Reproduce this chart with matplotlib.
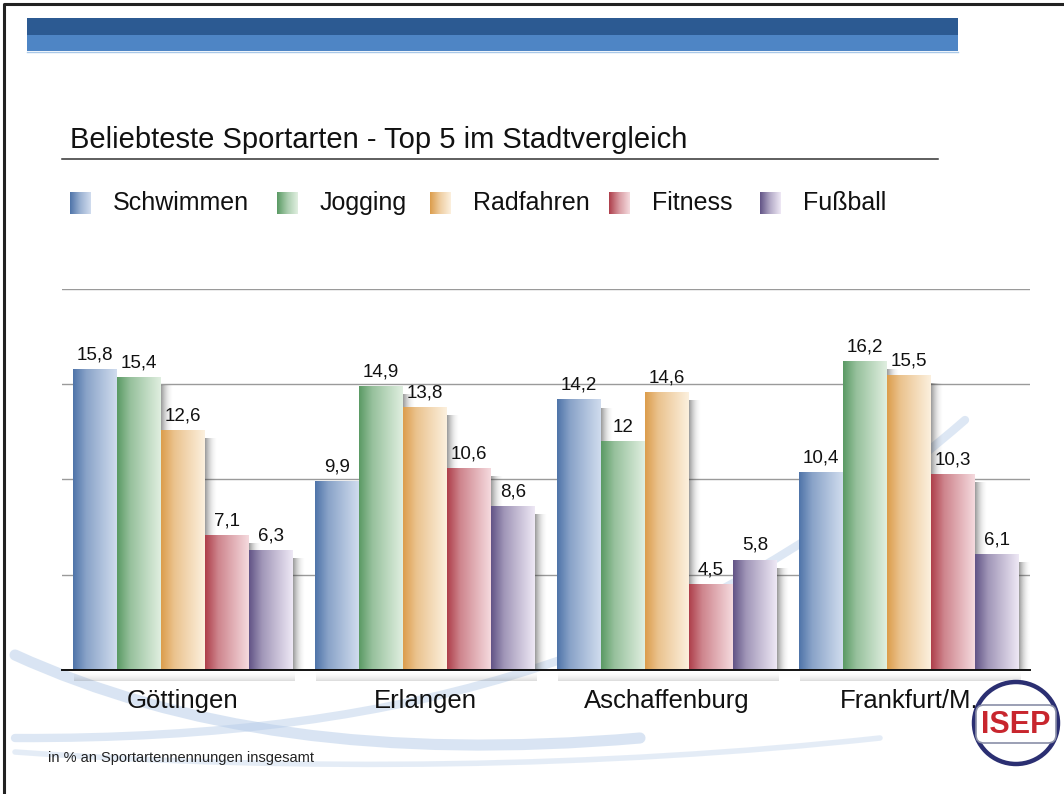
import matplotlib

matplotlib.use("Agg")
import matplotlib.pyplot as plt
import numpy as np
from matplotlib.colors import LinearSegmentedColormap, to_rgb
from matplotlib.patches import Ellipse, FancyBboxPatch, PathPatch, Rectangle
from matplotlib.path import Path

plt.rcParams["font.family"] = ["Liberation Sans", "DejaVu Sans"]

cities = ["Göttingen", "Erlangen", "Aschaffenburg", "Frankfurt/M."]
sports = ["Schwimmen", "Jogging", "Radfahren", "Fitness", "Fußball"]
schwimmen = [15.8, 9.9, 14.2, 10.4]
jogging = [15.4, 14.9, 12.0, 16.2]
radfahren = [12.6, 13.8, 14.6, 15.5]
fitness = [7.1, 10.6, 4.5, 10.3]
fussball = [6.3, 8.6, 5.8, 6.1]
series = [schwimmen, jogging, radfahren, fitness, fussball]

# (dark left edge, light right edge) for each sport
shades = [
    ("#4f74a9", "#d0dcee"),
    ("#5a9a64", "#e0efe0"),
    ("#dc9d4c", "#fcf0de"),
    ("#ae3f4b", "#f5dade"),
    ("#625486", "#eee8f5"),
]


def blend(c1, c2, t):
    a, b = to_rgb(c1), to_rgb(c2)
    return tuple((1 - t) * p + t * q for p, q in zip(a, b))


W, H = 1064, 794
fig = plt.figure(figsize=(W / 100, H / 100), dpi=100)
fig.patch.set_facecolor("white")

# slide background: frame, header stripes, swooshes, title, legend, footnote
bg = fig.add_axes([0, 0, 1, 1], zorder=0)
bg.axis("off")

bg.plot([4, 4, W], [H, 4, 4], color="#222222", lw=2.2, solid_capstyle="butt")
bg.add_patch(Rectangle((27, 18), 931, 17, color="#2c5a92", lw=0))
bg.add_patch(Rectangle((27, 35), 931, 16, color="#4e85c5", lw=0))
bg.plot([27, 958], [51.5, 51.5], color="#a9c8e8", lw=1)


def swoosh(pts, width, alpha):
    codes = [Path.MOVETO] + [Path.CURVE4] * (len(pts) - 1)
    bg.add_patch(PathPatch(Path(pts, codes), fill=False, edgecolor="#b4cbe8",
                           lw=width, alpha=alpha, capstyle="round"))


swoosh([(15, 655), (180, 730), (380, 760), (640, 738)], 8, 0.5)
swoosh([(15, 738), (420, 740), (700, 650), (965, 420)], 6, 0.45)
swoosh([(15, 752), (300, 772), (600, 768), (880, 738)], 4, 0.35)

bg.text(70, 140, "Beliebteste Sportarten - Top 5 im Stadtvergleich",
        fontsize=21, color="#111111", va="center", ha="left")
bg.plot([62, 938], [159, 159], color="#333333", lw=1.1)

legend_x = [70, 277, 430, 609, 760]
for (dark, light), name, lx in zip(shades, sports, legend_x):
    cmap = LinearSegmentedColormap.from_list(name, [dark, blend(dark, light, 0.6), light])
    grad = np.linspace(0, 1, 64)[None, :]
    bg.imshow(grad, cmap=cmap, extent=[lx, lx + 21, 214, 192], aspect="auto",
              interpolation="bilinear")
    bg.text(lx + 43, 203, name, fontsize=18, color="#111111",
            va="center", ha="left")
bg.set_xlim(0, W)
bg.set_ylim(H, 0)

bg.text(48, 758, "in % an Sportartennennungen insgesamt", fontsize=10.5,
        color="#222222", va="center", ha="left")

# chart area
ax = fig.add_axes([62 / W, 1 - 670 / H, 968 / W, 381 / H], zorder=1)
ax.patch.set_alpha(0)
bw = 44 / 242
x = np.arange(len(cities))

for y in [5, 10, 15, 20]:
    ax.axhline(y, color="#9a9a9a", lw=1, zorder=0.5)

shadow_rgba = np.zeros((1, 64, 4))
shadow_rgba[..., :3] = 0.2
shadow_rgba[0, :, 3] = 0.5 * np.linspace(1, 0, 64) ** 2

for i, (vals, (dark, light)) in enumerate(zip(series, shades)):
    cmap = LinearSegmentedColormap.from_list(
        sports[i], [(0, dark), (0.3, blend(dark, light, 0.45)), (1, light)])
    offs = x - 0.5 + (242 - 5 * 44) / 2 / 242 + bw * (i + 0.5)
    bars = ax.bar(offs, vals, width=bw, color="none", lw=0, zorder=2 + i)
    for rect, v in zip(bars, vals):
        x0 = rect.get_x()
        x1 = x0 + rect.get_width()
        # soft drop shadow on the right side
        ax.imshow(shadow_rgba, extent=[x1, x1 + 0.05, 0, max(v - 0.45, 0)],
                  aspect="auto", interpolation="bilinear", zorder=1.5 + i)
        grad = np.linspace(0, 1, 128)[None, :]
        img = ax.imshow(grad, cmap=cmap, extent=[x0, x1, 0, v], aspect="auto",
                        interpolation="bilinear", zorder=2 + i)
        img.set_clip_path(rect)
        ax.annotate(f"{v:g}".replace(".", ","), (x0 + rect.get_width() / 2, v),
                    xytext=(0, 4), textcoords="offset points", ha="center",
                    va="bottom", fontsize=13.5, color="#111111", zorder=10)

# shadow under the baseline of each group
under = np.zeros((32, 1, 4))
under[..., :3] = 0.3
under[:, 0, 3] = 0.2 * np.linspace(1, 0, 32) ** 2.5
for xc in x:
    ax.imshow(under, extent=[xc - 0.45, xc + 0.46, 0, -0.6], aspect="auto",
              interpolation="bilinear", zorder=1, clip_on=False)

ax.set_xlim(-0.5, len(cities) - 0.5)
ax.set_ylim(0, 20)
ax.set_xticks(x)
ax.set_xticklabels(cities, fontsize=18.5, color="#111111")
ax.tick_params(axis="x", length=0, pad=14)
ax.set_yticks([])
for side in ["left", "right", "top"]:
    ax.spines[side].set_visible(False)
ax.spines["bottom"].set_color("#111111")
ax.spines["bottom"].set_linewidth(1.4)
ax.spines["bottom"].set_zorder(20)

# logo in the lower right corner
fg = fig.add_axes([0, 0, 1, 1], zorder=3)
fg.set_xlim(0, W)
fg.set_ylim(H, 0)
fg.axis("off")
fg.add_patch(Ellipse((1016, 723), 84, 82, fill=False, edgecolor="#2b2f72", lw=3.2))
fg.add_patch(FancyBboxPatch((978, 707), 76, 34, boxstyle="round,pad=2,rounding_size=8",
                            facecolor="white", edgecolor="#8a8fa8", lw=1.2))
fg.text(1016, 725, "ISEP", fontsize=22, fontweight="bold", color="#c8262e",
        ha="center", va="center", family=["Liberation Sans Narrow", "Liberation Sans"])

fig.savefig("out.png", dpi=100)
